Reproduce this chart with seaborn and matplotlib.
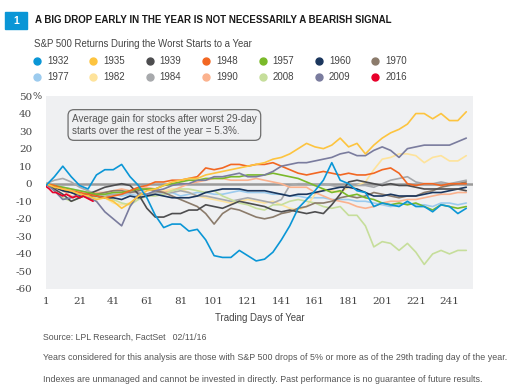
import numpy as np
import pandas as pd
import matplotlib
matplotlib.use("Agg")
import matplotlib.pyplot as plt
from matplotlib import font_manager
from matplotlib.lines import Line2D
from matplotlib.patches import Rectangle
import seaborn as sns

# trading day grid (every 5 days)
days = list(range(1, 252, 5))

r1932 = [-1, 4, 10, 4, -1, -3, 5, 8, 8, 11, 4, -1, -8, -18, -25, -23, -23, -27, -26, -32,
         -41, -42, -42, -38, -41, -44, -43, -39, -32, -24, -14, -9, -4, 2, 12, 2, 0, -4, -5, -13,
         -11, -12, -13, -10, -13, -13, -16, -12, -13, -17, -14]
r1935 = [0, -2, -3, -4, -6, -7, -9, -8, -10, -14, -11, -7, -4, -3, -1, 1, 2, 3, 3, 5,
         6, 7, 8, 9, 10, 11, 12, 14, 15, 17, 20, 23, 21, 20, 22, 26, 21, 23, 17, 22,
         26, 29, 31, 34, 40, 40, 37, 40, 36, 36, 41]
r1939 = [0, -3, -6, -10, -8, -6, -4, -2, -1, 0, -1, -6, -14, -19, -19, -17, -17, -15, -15, -12,
         -13, -14, -12, -10, -11, -12, -13, -15, -16, -15, -16, -17, -16, -17, -12, -6, 1, 2, 1, 0,
         -1, 0, -1, -1, -2, -3, -3, -3, -3, -3, -4]
r1948 = [0, -1, -3, -4, -5, -6, -7, -8, -7, -6, -4, -2, -1, 1, 1, 2, 2, 3, 4, 9,
         8, 9, 11, 11, 10, 11, 11, 12, 10, 8, 6, 5, 6, 7, 6, 5, 6, 5, 5, 6,
         8, 9, 6, 0, -1, 0, 0, -1, 0, 0, 0]
r1957 = [0, -1, -2, -3, -4, -5, -6, -6, -5, -5, -4, -3, -3, -3, -1, 0, 1, 2, 2, 3,
         3, 3, 4, 4, 5, 5, 5, 6, 5, 4, 3, 1, -1, -3, -5, -4, -7, -6, -8, -9,
         -11, -12, -11, -12, -11, -13, -15, -12, -13, -14, -13]
r1960 = [0, -2, -4, -5, -7, -6, -7, -8, -8, -9, -7, -8, -7, -6, -7, -8, -8, -8, -7, -5,
         -4, -3, -3, -3, -4, -4, -4, -5, -6, -7, -6, -6, -5, -4, -3, -2, -2, -3, -5, -7,
         -7, -6, -7, -7, -7, -6, -5, -5, -4, -3, -2]
r1970 = [0, -2, -3, -5, -6, -8, -6, -5, -4, -4, -5, -4, -3, -4, -5, -7, -9, -11, -13, -17,
         -23, -17, -14, -15, -17, -19, -20, -19, -17, -16, -14, -13, -11, -11, -10, -8, -7, -8, -7, -5,
         -6, -7, -8, -7, -7, -5, -4, -2, -1, 0, 1]
r1977 = [0, -1, -2, -3, -4, -5, -5, -6, -6, -7, -6, -7, -6, -6, -6, -5, -7, -6, -5, -5,
         -6, -6, -5, -4, -5, -5, -5, -6, -6, -7, -7, -8, -8, -8, -9, -9, -9, -10, -10, -11,
         -12, -13, -12, -11, -12, -12, -13, -11, -11, -12, -11]
r1982 = [0, -2, -3, -5, -6, -7, -8, -8, -11, -12, -11, -8, -6, -5, -4, -3, -3, -5, -7, -8,
         -9, -10, -11, -10, -9, -10, -11, -10, -12, -14, -15, -13, -6, -3, -4, -5, -2, -1, 1, 8,
         14, 15, 17, 17, 16, 12, 15, 16, 13, 13, 16]
r1984 = [0, 2, 3, 1, -2, -4, -6, -7, -6, -6, -5, -5, -6, -5, -5, -5, -4, -5, -7, -7,
         -8, -9, -10, -9, -8, -9, -10, -11, -9, -1, 0, 0, -1, 0, -1, -2, -1, -1, -1, -2,
         0, 2, 3, 4, 1, 0, 0, 1, 0, 1, 2]
r1990 = [0, -2, -4, -7, -8, -6, -5, -5, -4, -3, -4, -3, -2, -3, -5, -4, -2, 0, 1, 2,
         3, 3, 2, 2, 2, 3, 2, 1, 0, -2, -2, -2, -5, -7, -9, -10, -11, -13, -14, -13,
         -11, -10, -10, -9, -9, -8, -7, -6, -6, -5, -5]
r2008 = [0, -4, -8, -10, -8, -6, -8, -7, -9, -11, -12, -9, -7, -7, -6, -4, -3, -3, -4, -5,
         -4, -7, -9, -11, -12, -14, -15, -12, -12, -10, -9, -10, -11, -13, -14, -13, -18, -18, -24, -36,
         -33, -34, -38, -34, -39, -46, -40, -38, -40, -38, -38]
r2009 = [0, -4, -9, -8, -6, -8, -10, -16, -20, -24, -13, -6, -6, -4, -3, -1, 0, 0, 2, 2,
         4, 4, 5, 6, 4, 4, 5, 7, 10, 11, 12, 12, 13, 14, 15, 17, 18, 16, 16, 19,
         21, 19, 15, 20, 21, 22, 22, 22, 22, 24, 26]

# 2016 only covers the first 29 trading days
days_2016 = list(range(1, 30, 2))
r2016 = [-1.5, -3, -5, -5, -6, -7, -6, -7, -8, -7, -8, -7, -8, -9, -10]

years = ["1932", "1935", "1939", "1948", "1957", "1960", "1970",
         "1977", "1982", "1984", "1990", "2008", "2009", "2016"]
colors = ["#0a96d6", "#fdc43f", "#4d4d4f", "#f26722", "#7ab929", "#1b365d", "#8b7b6b",
          "#9ccbee", "#fee39b", "#a7a9ac", "#fbb28e", "#c6de9b", "#7a7c9e", "#e8002a"]
series = [r1932, r1935, r1939, r1948, r1957, r1960, r1970,
          r1977, r1982, r1984, r1990, r2008, r2009]

frames = []
for yr, vals in zip(years[:-1], series):
    frames.append(pd.DataFrame({"day": days, "ret": vals, "year": yr}))
frames.append(pd.DataFrame({"day": days_2016, "ret": r2016, "year": "2016"}))
df = pd.concat(frames, ignore_index=True)

sns.set_style("white")
names = {f.name for f in font_manager.fontManager.ttflist}
narrow = "Liberation Sans Narrow" if "Liberation Sans Narrow" in names else "Liberation Sans"
plt.rcParams["font.family"] = [narrow, "DejaVu Sans"]

W, H = 511, 390
fig = plt.figure(figsize=(W / 100, H / 100), dpi=100)
ax = fig.add_axes([46 / W, 1 - 289 / H, (473 - 46) / W, (289 - 96) / H])
ax.set_facecolor("#eff0f2")

ax.axhline(0, color="#9a9a9a", lw=1.8, zorder=1)
pal = dict(zip(years, colors))
for yr in ["1977", "1982", "1984", "1990", "2008", "1970", "1960", "1939",
           "1957", "1948", "2009", "1935", "1932", "2016"]:
    sns.lineplot(data=df[df["year"] == yr], x="day", y="ret", color=pal[yr],
                 lw=1.2, ax=ax, zorder=3, legend=False)

ax.set_xlim(1, 255)
ax.set_ylim(-60, 50)
ax.set_xticks(range(1, 242, 20))
ax.set_yticks(range(-60, 51, 10))
ax.set_yticklabels([str(v) for v in range(-60, 51, 10)])
ax.tick_params(length=0, labelcolor="#444444")
ax.tick_params(axis="y", pad=10)
ax.tick_params(axis="x", pad=6)
for lab in ax.get_xticklabels() + ax.get_yticklabels():
    lab.set_family("DejaVu Serif")
    lab.set_fontsize(7.5)
fig.text(32.5 / W, 1 - 96.5 / H, "%", fontsize=7, family="DejaVu Serif",
         color="#444444", va="center", ha="left")
for s in ax.spines.values():
    s.set_visible(False)
ax.set_xlabel("Trading Days of Year", fontsize=6.9, color="#444444", labelpad=5)
ax.set_ylabel("")

# annotation box
ax.text((72 - 46) / 427, (289 - 125) / 193,
        "Average gain for stocks after worst 29-day\nstarts over the rest of the year = 5.3%.",
        transform=ax.transAxes, fontsize=7.1, color="#555555", va="center", ha="left",
        linespacing=1.35,
        bbox=dict(boxstyle="round,pad=0.4,rounding_size=0.6", fc="#eff0f2", ec="#6d6d6d", lw=0.9))

# header
fig.patches.append(Rectangle((5 / W, 1 - 29 / H), 22 / W, 17 / H, transform=fig.transFigure,
                             color="#0a96d6"))
fig.text(16 / W, 1 - 20.5 / H, "1", color="white", fontsize=7.5, fontweight="bold",
         ha="center", va="center")
fig.text(35 / W, 1 - 20 / H, "A BIG DROP EARLY IN THE YEAR IS NOT NECESSARILY A BEARISH SIGNAL",
         fontsize=7.0, fontweight="bold", color="#1a1a1a", va="center", ha="left")
fig.text(34 / W, 1 - 44 / H, "S&P 500 Returns During the Worst Starts to a Year",
         fontsize=6.9, color="#444444", va="center", ha="left")

# legend
for i, yr in enumerate(years):
    col, row = i % 7, i // 7
    x = 37 + col * 56.4
    y = 60.5 + row * 16
    fig.add_artist(Line2D([x / W], [1 - y / H], marker="o", ms=5, color=pal[yr],
                          transform=fig.transFigure, lw=0))
    fig.text((x + 10) / W, 1 - y / H, yr, fontsize=7, color="#444444", va="center", ha="left")

# footer
fig.text(43 / W, 1 - 337 / H, "Source: LPL Research, FactSet   02/11/16",
         fontsize=6.3, color="#555555", va="center")
fig.text(43 / W, 1 - 357 / H,
         "Years considered for this analysis are those with S&P 500 drops of 5% or more as of the 29th trading day of the year.",
         fontsize=6.4, color="#555555", va="center")
fig.text(43 / W, 1 - 379 / H,
         "Indexes are unmanaged and cannot be invested in directly. Past performance is no guarantee of future results.",
         fontsize=6.4, color="#555555", va="center")

fig.savefig("out.png", dpi=100, facecolor="white")
